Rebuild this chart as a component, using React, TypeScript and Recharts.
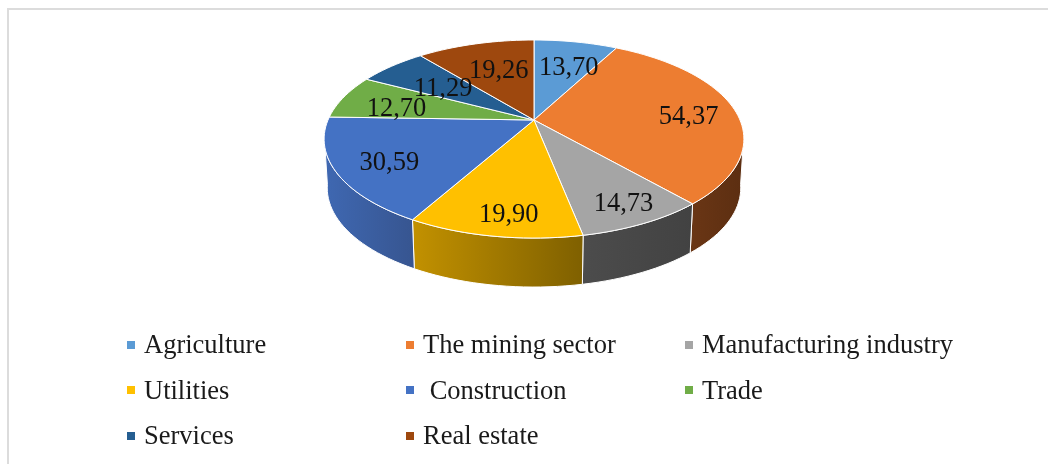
import { Legend, Pie, PieChart } from "recharts"

const categories = ["Agriculture", "The mining sector", "Manufacturing industry", "Utilities", " Construction", "Trade", "Services", "Real estate"]
const values = [13.7, 54.37, 14.73, 19.9, 30.59, 12.7, 11.29, 19.26]
const topColors = ["#5b9bd5", "#ed7d31", "#a5a5a5", "#ffc000", "#4472c4", "#70ad47", "#255e91", "#9e480e"]
const wallColors = ["#2e5f8a", "url(#wallOrange)", "url(#wallGray)", "url(#wallYellow)", "url(#wallBlue)", "#4a7a2e", "#173a5c", "#613214"]
const labelReach = [0.66, 0.76, 0.83, 0.83, 0.76, 0.7, 0.6, 0.63]
const labelTurn = [2.7, 2.7, -0.5, -2, -2, -3.1, -1.2, 2]

const data = categories.map((name, i) => ({ name, value: values[i], fill: topColors[i], wall: wallColors[i] }))

const CX = 534
const CY = 120
const RADIUS = 206
const SQUASH = 0.463
const TILT = 0.192
const DEPTH = 49
const BASE_SCALE = 0.985
const FONT = "Liberation Serif"

// tilted disc: clockwise angle from 12 o'clock -> screen point
function project(cw: number, reach = 1) {
  const rad = (cw * Math.PI) / 180
  const px = reach * Math.sin(rad)
  const py = -reach * Math.cos(rad)
  const d = 1 - TILT * py
  return { x: CX + (RADIUS * px) / d, y: CY + (RADIUS * SQUASH * py) / d }
}

function arcPoints(from: number, to: number) {
  const pts = []
  const steps = Math.max(2, Math.ceil(Math.abs(to - from) / 2))
  for (let i = 0; i <= steps; i++) pts.push(project(from + ((to - from) * i) / steps))
  return pts
}

const toPath = (pts: { x: number; y: number }[]) => "M" + pts.map((p) => `${p.x.toFixed(2)},${p.y.toFixed(2)}`).join("L") + "Z"

function TopFace(props: any) {
  const pts = [{ x: CX, y: CY }, ...arcPoints(90 - props.startAngle, 90 - props.endAngle)]
  return <path d={toPath(pts)} fill={props.fill} stroke="#fff" strokeWidth={1} strokeLinejoin="round" />
}

function SideWall(props: any) {
  const from = Math.max(90 - props.startAngle, 99)
  const to = Math.min(90 - props.endAngle, 261)
  if (to <= from) return null
  const upper = arcPoints(from, to)
  const lower = upper
    .map((p) => ({ x: CX + (p.x - CX) * BASE_SCALE, y: p.y + DEPTH }))
    .reverse()
  return <path d={toPath([...upper, ...lower])} fill={props.wall} stroke="#fff" strokeWidth={1} strokeLinejoin="round" />
}

function renderLabel(props: any) {
  const p = project(90 - props.midAngle + labelTurn[props.index], labelReach[props.index])
  return (
    <text x={p.x} y={p.y} textAnchor="middle" dominantBaseline="central" fontFamily={FONT} fontSize={26.5} fill="#111">
      {props.value.toFixed(2).replace(".", ",")}
    </text>
  )
}

function LegendGrid(props: any) {
  const items = (props.payload || []).filter((item: any) => item.type !== "none")
  return (
    <div style={{ display: "grid", gridTemplateColumns: "279px 279px 279px", gridAutoRows: "45.5px", paddingLeft: 127, paddingTop: 322 }}>
      {items.map((item: any) => (
        <div key={item.value} style={{ display: "flex", alignItems: "center", whiteSpace: "pre", fontFamily: FONT, fontSize: 26.5, color: "#1a1a1a" }}>
          <span style={{ width: 8, height: 8, marginRight: 9, background: item.color, flex: "none" }} />
          {item.value}
        </div>
      ))}
    </div>
  )
}

export default function App() {
  return (
    <div style={{ position: "absolute", left: 0, top: 0, width: 1048, height: 464, background: "#fff", overflow: "hidden", filter: "blur(0.4px)" }}>
      <div style={{ position: "absolute", left: 7, top: 8, width: 1060, height: 470, border: "2px solid #dcdcdc" }} />
      <PieChart width={1048} height={464} margin={{ top: 0, right: 0, bottom: 0, left: 0 }}>
        <defs>
          <linearGradient id="wallOrange" x1="0" x2="1" y1="0" y2="0">
            <stop offset="0" stopColor="#6a3615" />
            <stop offset="1" stopColor="#5c2e11" />
          </linearGradient>
          <linearGradient id="wallGray" x1="0" x2="1" y1="0" y2="0">
            <stop offset="0" stopColor="#4c4c4c" />
            <stop offset="1" stopColor="#424242" />
          </linearGradient>
          <linearGradient id="wallYellow" x1="0" x2="1" y1="0" y2="0">
            <stop offset="0" stopColor="#c29100" />
            <stop offset="1" stopColor="#7f6000" />
          </linearGradient>
          <linearGradient id="wallBlue" x1="0" x2="1" y1="0" y2="0">
            <stop offset="0" stopColor="#3f68b2" />
            <stop offset="1" stopColor="#375590" />
          </linearGradient>
        </defs>
        <Pie data={data} dataKey="value" nameKey="name" cx={CX} cy={CY} outerRadius={RADIUS} startAngle={90} endAngle={-270} legendType="none" shape={SideWall} isAnimationActive={false} />
        <Pie data={data} dataKey="value" nameKey="name" cx={CX} cy={CY} outerRadius={RADIUS} startAngle={90} endAngle={-270} legendType="square" shape={TopFace} label={renderLabel} labelLine={false} isAnimationActive={false} />
        <Legend content={LegendGrid} itemSorter={null} wrapperStyle={{ left: 0, top: 0, width: 1048, height: 464 }} />
      </PieChart>
    </div>
  )
}
